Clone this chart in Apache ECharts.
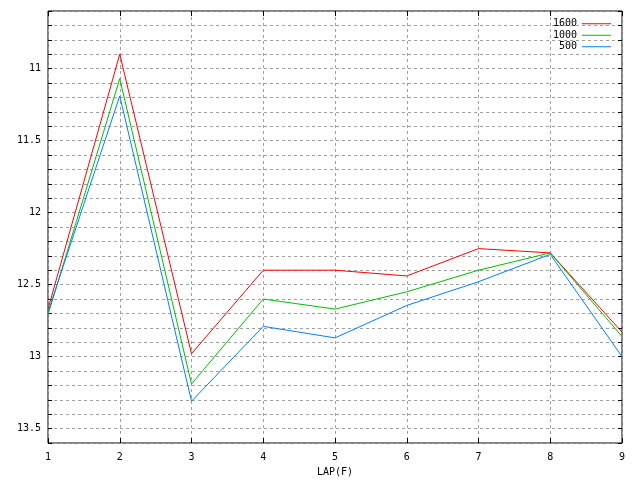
<!DOCTYPE html>
<html>
<head>
<meta charset="utf-8">
<script src="https://cdn.jsdelivr.net/npm/echarts@6/dist/echarts.min.js"></script>
<style>
html, body { margin: 0; padding: 0; background: #fff; }
#main { width: 640px; height: 480px; }
</style>
</head>
<body>
<div id="main"></div>
<script>
// laps on x, lap times on y (axis is inverted)
var laps = [1, 2, 3, 4, 5, 6, 7, 8, 9];
var names = ['1600', '1000', '500'];
var t1600 = [12.67, 10.90, 12.98, 12.40, 12.40, 12.44, 12.25, 12.28, 12.83];
var t1000 = [12.71, 11.07, 13.19, 12.60, 12.67, 12.55, 12.40, 12.28, 12.86];
var t500  = [12.69, 11.19, 13.31, 12.79, 12.87, 12.645, 12.48, 12.29, 13.00];
var colors = ['#ff0000', '#00c000', '#0080ff'];

function pairs(vals) {
	var out = [];
	for (var i = 0; i < laps.length; i++) {
		out.push([laps[i], vals[i]]);
	}
	return out;
}

var font = 'DejaVu Sans Mono';
var grid_line = {
	show: true,
	lineStyle: { color: '#a0a0a0', type: [3, 3], width: 1 }
};

function buildSeries(name, vals, color) {
	return {
		name: name,
		type: 'line',
		data: pairs(vals),
		symbol: 'none',
		lineStyle: { color: color, width: 1 },
		itemStyle: { color: color },
		animation: false
	};
}

var option = {
	animation: false,
	backgroundColor: '#fff',
	textStyle: { fontFamily: font },
	grid: {
		left: 48,
		right: 18,
		top: 11,
		bottom: 37,
		outerBoundsMode: 'none',
		containLabel: false,
		show: true,
		borderColor: '#000',
		borderWidth: 1
	},
	legend: {
		orient: 'vertical',
		right: 24,
		top: 13,
		align: 'right',
		itemWidth: 29,
		itemHeight: 1,
		itemGap: 0,
		icon: 'rect',
		textStyle: { fontFamily: font, fontSize: 10, color: '#000', lineHeight: 11.5, padding: [0, 0, 0, 0] },
		data: names
	},
	xAxis: [{
		type: 'value',
		min: 1,
		max: 9,
		interval: 1,
		name: 'LAP(F)',
		nameLocation: 'middle',
		nameGap: 24,
		nameTextStyle: { fontFamily: font, fontSize: 10, color: '#000' },
		axisLine: { show: false },
		axisTick: { show: true, inside: true, length: 5, lineStyle: { color: '#000' } },
		axisLabel: { fontFamily: font, fontSize: 10, color: '#000', margin: 9 },
		splitLine: grid_line
	}, {
		type: 'value',
		position: 'top',
		min: 1,
		max: 9,
		interval: 1,
		axisLine: { show: false },
		axisTick: { show: true, inside: true, length: 5, lineStyle: { color: '#000' } },
		axisLabel: { show: false },
		splitLine: { show: false }
	}],
	yAxis: [{
		type: 'value',
		inverse: true,
		min: 10.6,
		max: 13.6,
		interval: 0.1,
		axisLine: { show: false },
		axisTick: { show: true, inside: true, length: 4, lineStyle: { color: '#000' } },
		axisLabel: {
			fontFamily: font,
			fontSize: 10,
			color: '#000',
			margin: 7,
			formatter: function(v) {
				var r = Math.round(v * 10) / 10;
				if (Math.abs(r * 2 - Math.round(r * 2)) < 1e-6) {
					return String(r);
				}
				return '';
			}
		},
		splitLine: grid_line
	}, {
		type: 'value',
		inverse: true,
		position: 'right',
		min: 10.6,
		max: 13.6,
		interval: 0.1,
		axisLine: { show: false },
		axisTick: { show: true, inside: true, length: 4, lineStyle: { color: '#000' } },
		axisLabel: { show: false },
		splitLine: { show: false }
	}],
	series: [
		buildSeries(names[0], t1600, colors[0]),
		buildSeries(names[1], t1000, colors[1]),
		buildSeries(names[2], t500, colors[2])
	]
};

var myChart = echarts.init(document.getElementById('main'));
myChart.setOption(option, true);
</script>
</body>
</html>
